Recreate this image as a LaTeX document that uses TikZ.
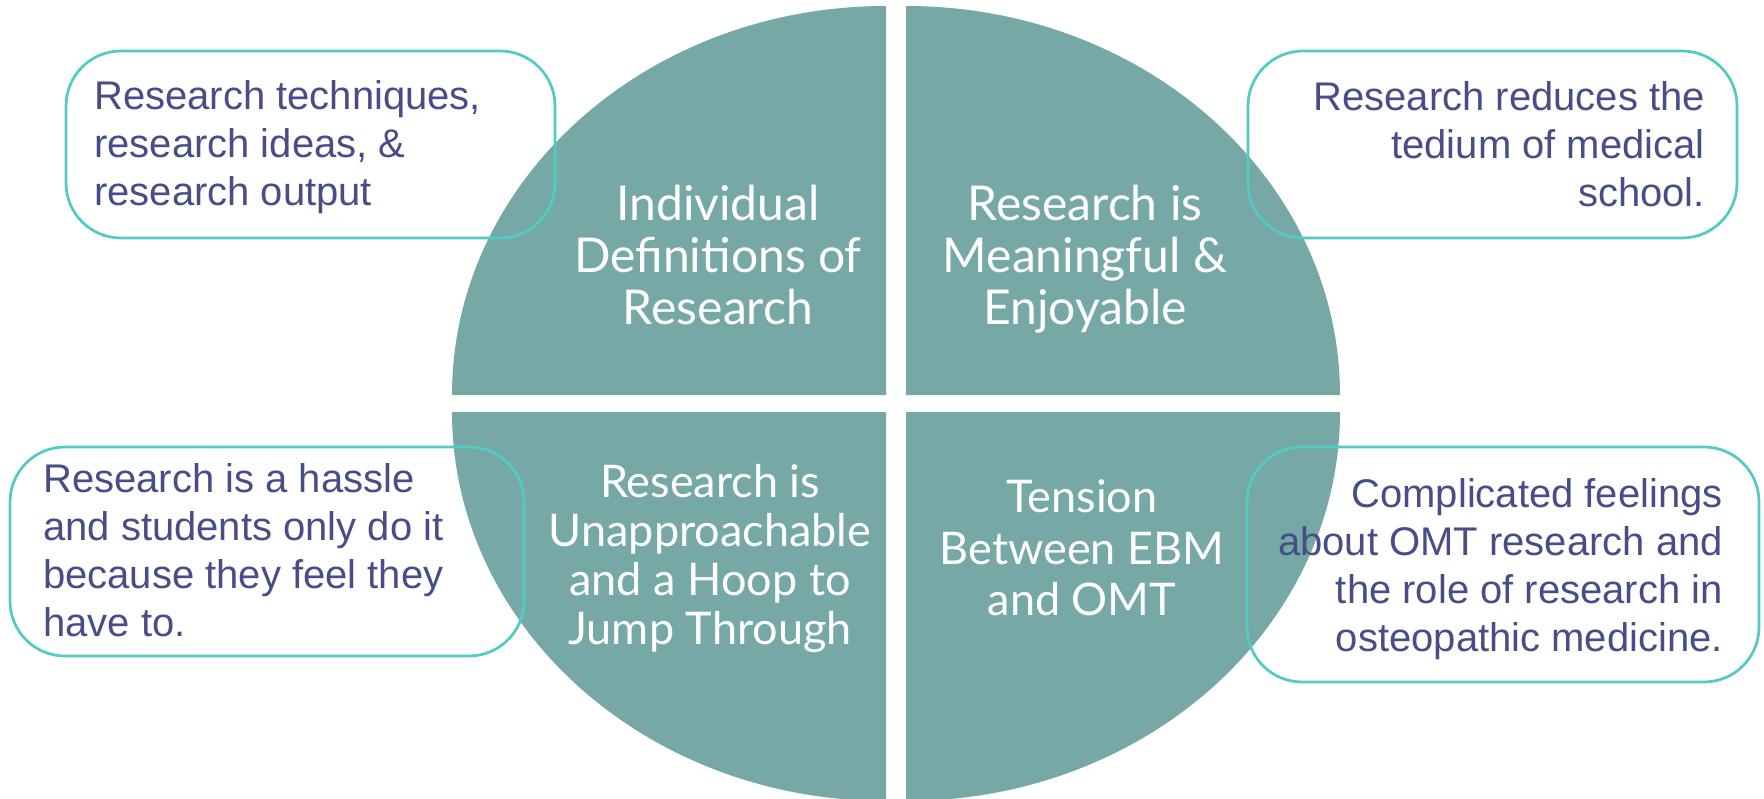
\documentclass[tikz,border=0pt]{standalone}
\usepackage{fontspec}
\setmainfont{Liberation Sans}
\newfontfamily\latofont{Lato}
\usepackage{xcolor}
\usetikzlibrary{positioning,calc}

\definecolor{pieteal}{HTML}{76A9A5}
\definecolor{calloutline}{HTML}{52CBC3}
\definecolor{callouttext}{HTML}{464E87}

\tikzset{
  quarter/.style={fill=pieteal, draw=none},
  quartertext/.style={text=white, align=center, inner sep=0pt,
    font=\latofont\fontsize{48}{52}\selectfont},
  callout/.style={draw=calloutline, line width=2.75pt, rounded corners=55pt,
    inner sep=0pt},
  callouttext/.style={text=callouttext, inner sep=0pt,
    font=\fontsize{40}{48}\selectfont}
}

\begin{document}
\begin{tikzpicture}[x=1pt,y=-1pt]
	\useasboundingbox (0,0) rectangle (1764,799);
	% inner corners of the four quarters
	\path (886,395) coordinate (tl)
	(906,395) coordinate (tr)
	(886,412) coordinate (bl)
	(906,412) coordinate (br);
	\fill[quarter] (tl) -- ++(-434,0) arc[start angle=180, end angle=90, x radius=434pt, y radius=389pt] -- cycle;
	\fill[quarter] (tr) -- ++(434,0) arc[start angle=0, end angle=90, x radius=434pt, y radius=389pt] -- cycle;
	\fill[quarter] (bl) -- ++(-434,0) arc[start angle=180, end angle=270, x radius=434pt, y radius=389pt] -- cycle;
	\fill[quarter] (br) -- ++(434,0) arc[start angle=0, end angle=-90, x radius=434pt, y radius=389pt] -- cycle;

	\node[quartertext] (defs) at (718,255) {Individual\\Definitions of\\Research};
	\node[quartertext] (meaning) at (1085,259) {Research is\\Meaningful \&\\Enjoyable};
	\node[quartertext, font=\latofont\fontsize{45}{49}\selectfont] (hoop) at (710,559) {Research is\\Unapproachable\\and a Hoop to\\Jump Through};
	\node[quartertext, font=\latofont\fontsize{45}{51.5}\selectfont] (tension) at (1082,548) {Tension\\Between EBM\\and OMT};

	\node[callout, minimum width=489pt, minimum height=187pt] (defsbox) at (310.5,144.5) {};
	\node[callout, minimum width=489pt, minimum height=187pt] (meaningbox) at (1492.5,144.5) {};
	\node[callout, minimum width=514pt, minimum height=209pt] (hoopbox) at (267,551.5) {};
	\node[callout, minimum width=512pt, minimum height=235pt] (tensionbox) at (1503,564.5) {};

	\node[callouttext, anchor=west, align=left] (defsnote) at (94,147) {Research techniques,\\research ideas, \&\\research output};
	\node[callouttext, anchor=east, align=right] (meaningnote) at (1705,144.5) {Research reduces the\\tedium of medical\\school.};
	\node[callouttext, anchor=west, align=left] (hoopnote) at (43,550.5) {Research is a hassle\\and students only do it\\because they feel they\\have to.};
	\node[callouttext, anchor=east, align=right] (tensionnote) at (1723,569) {Complicated feelings\\about OMT research and\\the role of research in\\osteopathic medicine.};
\end{tikzpicture}
\end{document}
